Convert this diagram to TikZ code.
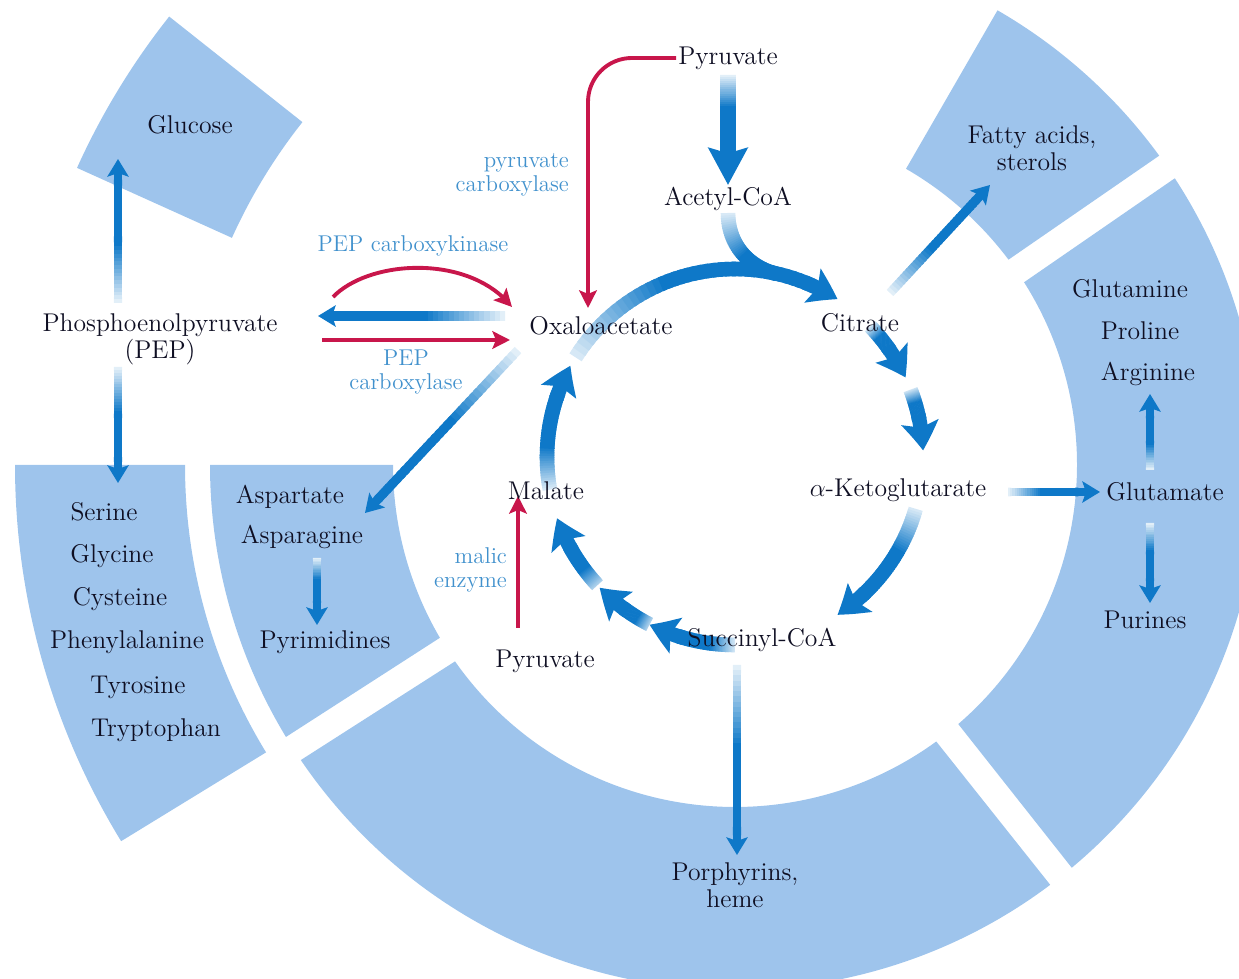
\documentclass[tikz,border=0pt]{standalone}
\usetikzlibrary{arrows.meta,bending,calc}
\definecolor{segblue}{RGB}{158,196,236}
\definecolor{tblue}{RGB}{14,120,200}
\definecolor{lblue}{RGB}{65,145,205}
\definecolor{tred}{RGB}{200,22,75}
\definecolor{textc}{RGB}{15,15,35}

% gradient arc arrow on the cycle: #1 start angle, #2 tip angle, #3 start tint
\newcommand\ringarrow[3]{%
  \pgfmathsetmacro\rD{ifthenelse(#2>#1,1,-1)}%
  \pgfmathsetmacro\rT{#2-\rD*11}%
  \pgfmathsetmacro\rS{\rT+\rD*1.5-(#1)}%
  \foreach \k in {1,...,40}{%
    \pgfmathsetmacro\rA{#1+\rS*(\k-1)/40}%
    \pgfmathsetmacro\rB{#1+\rS*(\k+0.6)/40}%
    \pgfmathsetmacro\rP{min(100,#3+(100-#3)*\k/18)}%
    \draw[line width=8.3pt, draw=tblue!\rP!white] ($(K)+(\rA:188)$) arc[start angle=\rA, end angle=\rB, radius=188];%
  }%
  \draw[ringtip] ($(K)+(\rT:188)$) arc[start angle=\rT, end angle=#2, radius=188];%
}
% gradient straight arrow: #1 from, #2 to, #3 width, #4 tip style, #5 tip piece length
\newcommand\garrow[5]{%
  \coordinate (gM) at ($(#2)!#5!(#1)$);%
  \foreach \k in {1,...,32}{%
    \pgfmathsetmacro\gA{(\k-1)/32}%
    \pgfmathsetmacro\gB{(\k+0.6)/32}%
    \pgfmathsetmacro\gP{min(100,6+94*\k/16)}%
    \draw[line width=#3, draw=tblue!\gP!white] ($(#1)!\gA!(gM)$) -- ($(#1)!\gB!(gM)$);%
  }%
  \draw[line width=#3, draw=tblue, #4] (gM) -- (#2);%
}
% gradient curve without tip
\newcommand\gcurve[5]{%
  \foreach \k in {1,...,40}{%
    \pgfmathsetmacro\gA{(\k-1)/40}%
    \pgfmathsetmacro\gB{min(1,(\k+0.7)/40)}%
    \pgfmathsetmacro\gP{min(100,12+88*\k/22)}%
    \path (#1) .. controls (#2) and (#3) .. (#4) coordinate[pos=\gA] (cA) coordinate[pos=\gB] (cB);%
    \draw[line width=#5, draw=tblue!\gP!white] (cA) -- (cB);%
  }%
}

\begin{document}
\begin{tikzpicture}[x=0.02cm, y=0.02cm,
  seg/.style={fill=segblue},
  lab/.style={font=\fontsize{14.6}{15.2}\selectfont, text=textc, inner sep=1pt},
  blab/.style={font=\fontsize{13}{14}\selectfont, text=lblue, inner sep=1pt},
  ringtip/.style={line width=8.3pt, draw=tblue, -{Stealth[length=16pt, width=21pt, inset=3pt, bend]}},
  bigtip/.style={-{Stealth[length=21pt, width=22pt, inset=3pt]}},
  midtip/.style={-{Stealth[length=10pt, width=12pt, inset=2pt]}},
  redarr/.style={line width=2.2pt, draw=tred, -{Stealth[length=10pt, width=10pt, inset=2pt]}},
]
\useasboundingbox (0,0) rectangle (1239,979);
\clip (0,0) rectangle (1239,979);
\coordinate (C) at (735,514);
\coordinate (K) at (735,522);

% ---- background segments ----
\fill[seg] ($(C)+(141.6:552)$) arc[start angle=141.6, end angle=155.7, radius=552]
  -- ($(C)+(155.7:722)$) arc[start angle=155.7, end angle=141.6, radius=722] -- cycle;
\fill[seg] ($(C)+(180:550)$) arc[start angle=180, end angle=211.5, radius=550]
  -- ($(C)+(211.5:720)$) arc[start angle=211.5, end angle=180, radius=720] -- cycle;
\fill[seg] ($(C)+(180:342)$) arc[start angle=180, end angle=210.35, radius=342]
  -- ($(C)+(211.2:525)$) arc[start angle=211.2, end angle=180, radius=525] -- cycle;
\fill[seg] ($(C)+(215.05:342)$) arc[start angle=215.05, end angle=306.05, radius=342]
  -- ($(C)+(306.9:525)$) arc[start angle=306.9, end angle=214.2, radius=525] -- cycle;
\fill[seg] ($(C)+(310.75:342)$) arc[start angle=310.75, end angle=392.3, radius=342]
  -- ($(C)+(393.1:525)$) arc[start angle=393.1, end angle=309.9, radius=525] -- cycle;
\fill[seg] ($(C)+(36.9:342)$) arc[start angle=36.9, end angle=60, radius=342]
  -- ($(C)+(60:525)$) arc[start angle=60, end angle=36.1, radius=525] -- cycle;

% ---- text nodes ----
\node[lab] (pyrT) at (728,921) {Pyruvate};
\node[lab] (acoa) at (728,780) {Acetyl-CoA};
\node[lab, align=center] (pep) at (160,640) {Phosphoenolpyruvate\\(PEP)};
\node[lab] (gluc) at (190,854) {Glucose};
\node[lab, align=center] (fat) at (1032,831) {Fatty acids,\\sterols};
\node[lab] (gln) at (1130,690) {Glutamine};
\node[lab] (pro) at (1140,648) {Proline};
\node[lab] (arg) at (1148,605) {Arginine};
\node[lab] (glu) at (1165,487) {Glutamate};
\node[lab] (pur) at (1145,359) {Purines};
\node[lab] (ser) at (104,467) {Serine};
\node[lab] (gly) at (112,423) {Glycine};
\node[lab] (cys) at (120,380) {Cysteine};
\node[lab] (phe) at (127,337) {Phenylalanine};
\node[lab] (tyr) at (138,292) {Tyrosine};
\node[lab] (trp) at (156,249) {Tryptophan};
\node[lab] (asp) at (290,482) {Aspartate};
\node[lab] (asn) at (302,442) {Asparagine};
\node[lab] (pyrim) at (325,337) {Pyrimidines};
\node[lab] (pyrB) at (545,318) {Pyruvate};
\node[lab, align=center] (por) at (735,94) {Porphyrins,\\heme};
\node[blab, align=right, anchor=east] (pcl) at (571,804) {pyruvate\\carboxylase};
\node[blab] (pckl) at (413,733) {PEP carboxykinase};
\node[blab, align=center] (pepcl) at (406,607) {PEP\\carboxylase};
\node[blab, align=right, anchor=east] (mel) at (509,409) {malic\\enzyme};

% ---- connector end points ----
\coordinate (pa1) at (728,904); \coordinate (pa2) at (728,794);
\coordinate (st1) at (728,766); \coordinate (stc1) at (728,735);
\coordinate (stc2) at (748,712); \coordinate (st2) at (777,705);
\coordinate (ob1) at (505,663); \coordinate (ob2) at (318,663);
\coordinate (pr1) at (322,639); \coordinate (pr2) at (510,639);
\coordinate (pk1) at (333,682); \coordinate (pk2) at (512,672);
\coordinate (pc1) at (676,921); \coordinate (pcc) at (588,921); \coordinate (pc2) at (588,671);
\coordinate (oa1) at (518,629); \coordinate (oa2) at (365,466);
\coordinate (cf1) at (890,686); \coordinate (cf2) at (990,794);
\coordinate (ag1) at (1008,487); \coordinate (ag2) at (1100,487);
\coordinate (ga1) at (1150,509); \coordinate (ga2) at (1150,585);
\coordinate (gp1) at (1150,456); \coordinate (gp2) at (1150,376);
\coordinate (sp1) at (737,314); \coordinate (sp2) at (737,124);
\coordinate (ap1) at (317,421); \coordinate (ap2) at (317,354);
\coordinate (pg1) at (118,676); \coordinate (pg2) at (118,820);
\coordinate (ps1) at (118,612); \coordinate (ps2) at (118,496);
\coordinate (me1) at (518,351); \coordinate (me2) at (518,483);

% ---- blue gradient arrows ----
\garrow{pa1}{pa2}{9pt}{bigtip}{25pt}
\gcurve{st1}{stc1}{stc2}{st2}{8.3pt}
\garrow{ob1}{ob2}{5.6pt}{midtip}{13pt}
\garrow{oa1}{oa2}{5.2pt}{midtip}{13pt}
\garrow{cf1}{cf2}{5.2pt}{midtip}{13pt}
\garrow{ag1}{ag2}{5pt}{midtip}{13pt}
\garrow{ga1}{ga2}{4.6pt}{midtip}{13pt}
\garrow{gp1}{gp2}{4.6pt}{midtip}{13pt}
\garrow{sp1}{sp2}{4.6pt}{midtip}{13pt}
\garrow{ap1}{ap2}{4.6pt}{midtip}{13pt}
\garrow{pg1}{pg2}{4.6pt}{midtip}{13pt}
\garrow{ps1}{ps2}{4.6pt}{midtip}{13pt}

% ---- citric acid cycle ----
\ringarrow{148}{57}{12}
\ringarrow{44}{25}{15}
\ringarrow{21}{2}{15}
\ringarrow{-16}{-57}{12}
\ringarrow{270}{243}{15}
\ringarrow{243}{224}{30}
\ringarrow{223}{199}{30}
\ringarrow{190}{151}{12}

% ---- red arrows ----
\draw[redarr] (pr1) -- (pr2);
\draw[redarr] (pk1) .. controls (370,720) and (470,725) .. (pk2);
\draw[redarr, rounded corners=25pt] (pc1) -- (pcc) -- (pc2);
\draw[redarr] (me1) -- (me2);

% ---- labels on the cycle ----
\node[lab] (oaa) at (601,653) {Oxaloacetate};
\node[lab] (cit) at (860,656) {Citrate};
\node[lab] (akg) at (898,489) {$\alpha$-Ketoglutarate};
\node[lab] (succ) at (762,339) {Succinyl-CoA};
\node[lab] (mal) at (546,488) {Malate};
\end{tikzpicture}
\end{document}
